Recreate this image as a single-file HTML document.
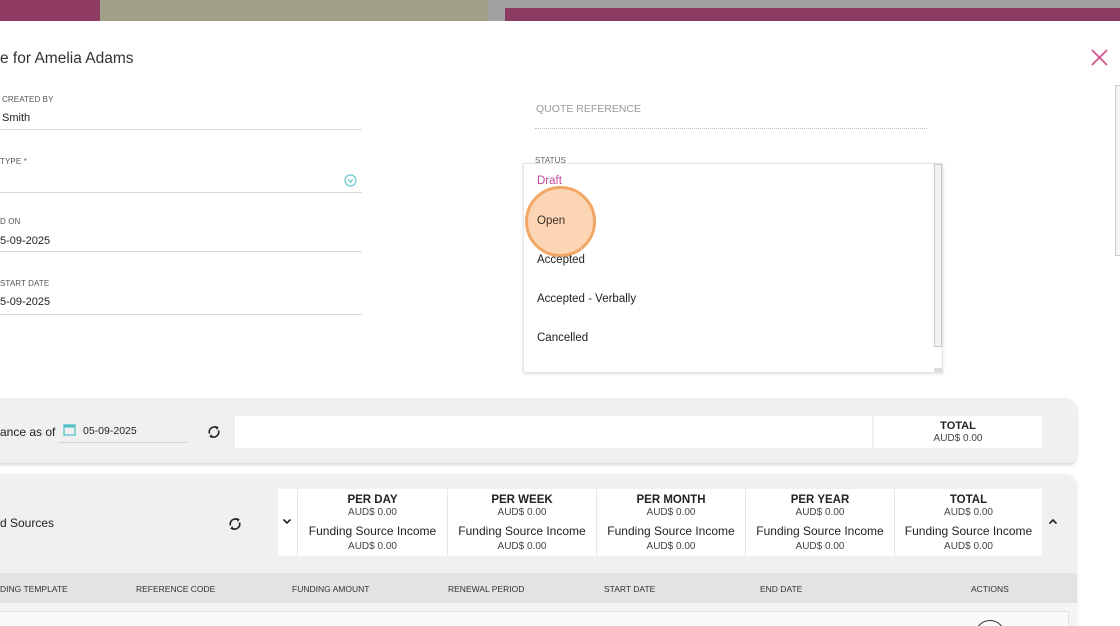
<!DOCTYPE html>
<html><head><meta charset="utf-8">
<style>
*{margin:0;padding:0;box-sizing:border-box}
html,body{width:1120px;height:626px;overflow:hidden}
body{background:#fff;font-family:"Liberation Sans",sans-serif;color:#333;position:relative}
.a{position:absolute;white-space:nowrap}
.lbl{font-size:8px;color:#555;letter-spacing:0.1px}
.val{font-size:11px;color:#222}
.ln{position:absolute;height:1px;background:#d8d8d8}
.opt{position:absolute;left:537px;font-size:11.5px;color:#222}
.col{position:absolute;top:489px;height:67px;background:#fff;text-align:center}
.col .h{font-size:11.5px;font-weight:bold;color:#222;margin-top:5px;line-height:13px}
.col .s{font-size:10px;color:#444;line-height:12px}
.col .f{font-size:12px;color:#222;margin-top:5px;line-height:14px}
.col .s2{font-size:10px;color:#444;margin-top:3px;line-height:12px}
.th{position:absolute;top:584px;font-size:8.5px;color:#333}
</style></head><body>
<!-- background strip -->
<div class="a" style="left:0;top:0;width:100px;height:21px;background:#8e3a62"></div>
<div class="a" style="left:100px;top:0;width:388px;height:21px;background:#a1a086"></div>
<div class="a" style="left:488px;top:0;width:632px;height:21px;background:#a1a1a1"></div>
<div class="a" style="left:505px;top:8px;width:615px;height:13px;background:#8b3a62"></div>

<!-- modal -->
<div class="a" style="left:0;top:21px;width:1120px;height:605px;background:#fff"></div>
<div class="a" style="left:0;top:50px;font-size:15.5px;color:#333">e for Amelia Adams</div>
<svg class="a" style="left:1090px;top:48px" width="19" height="19"><path d="M2 2L17 17M17 2L2 17" stroke="#d4548f" stroke-width="1.8" fill="none"/></svg>
<div class="a" style="left:1115px;top:85px;width:5px;height:171px;border:1px solid #ccc;border-right:none;background:#f4f4f4"></div>

<div class="a lbl" style="left:2px;top:95px">CREATED BY</div>
<div class="a val" style="left:2px;top:112px">Smith</div>
<div class="ln" style="left:0;top:129px;width:362px"></div>

<div class="a lbl" style="left:0;top:157px">TYPE *</div>
<svg class="a" style="left:344px;top:174px" width="13" height="13"><circle cx="6.5" cy="6.5" r="5.5" stroke="#4ec3c6" stroke-width="1" fill="none"/><path d="M4.3 5l2.2 3.3 2.2-3.3" stroke="#4ec3c6" stroke-width="1" fill="none"/></svg>
<div class="ln" style="left:0;top:192px;width:362px"></div>

<div class="a lbl" style="left:0;top:217px">D ON</div>
<div class="a val" style="left:0;top:235px">5-09-2025</div>
<div class="ln" style="left:0;top:251px;width:362px"></div>

<div class="a lbl" style="left:0;top:279px">START DATE</div>
<div class="a val" style="left:0;top:296px">5-09-2025</div>
<div class="ln" style="left:0;top:314px;width:362px"></div>

<div class="a" style="left:536px;top:103px;font-size:10.5px;color:#999">QUOTE REFERENCE</div>
<div class="a" style="left:535px;top:128px;width:392px;height:0;border-top:1px dotted #bbb"></div>
<div class="a lbl" style="left:535px;top:156px;color:#666">STATUS</div>

<!-- dropdown -->
<div class="a" style="left:523px;top:163px;width:420px;height:210px;background:#fff;border:1px solid #e4e4e4;box-shadow:0 1px 3px rgba(0,0,0,0.12)"></div>
<div class="a" style="left:934px;top:164px;width:8px;height:183px;background:#f2f2f2;border:1px solid #c8c8c8"></div>
<div class="a" style="left:934px;top:368px;width:8px;height:4px;background:#ddd"></div>
<div class="opt" style="top:175px;color:#c24a9c">Draft</div>
<div class="a" style="left:525px;top:186px;width:71px;height:71px;border-radius:50%;background:#fcd5b4;border:3px solid #f1a766"></div>
<div class="opt" style="top:215px;color:#3a3025">Open</div>
<div class="opt" style="top:254px">Accepted</div>
<div class="opt" style="top:293px">Accepted - Verbally</div>
<div class="opt" style="top:332px">Cancelled</div>

<!-- card 1 -->
<div class="a" style="left:-10px;top:398px;width:1087px;height:65px;background:#f0f0f0;border-top-right-radius:12px;border-bottom-right-radius:8px;box-shadow:0 2px 3px rgba(0,0,0,0.15)"></div>
<div class="a" style="left:0;top:425px;font-size:12px;color:#222">ance as of</div>
<svg class="a" style="left:63px;top:423px" width="13" height="13"><rect x="1" y="2" width="11" height="10" fill="none" stroke="#4ec3c6" stroke-width="1.3"/><rect x="1" y="2" width="11" height="2.5" fill="#4ec3c6"/></svg>
<div class="a" style="left:83px;top:425px;font-size:10.5px;color:#222">05-09-2025</div>
<div class="ln" style="left:59px;top:442px;width:128px;background:#d2d2d2"></div>
<svg class="a" style="left:206px;top:424px" width="16" height="16" viewBox="0 0 16 16"><path d="M3.5 9.5A5 5 0 0 1 11 3.8" stroke="#222" stroke-width="1.6" fill="none"/><path d="M12.5 6.5A5 5 0 0 1 5 12.2" stroke="#222" stroke-width="1.6" fill="none"/><path d="M9.5 1.8l3.2 1.6-2 2.6z" fill="#222"/><path d="M6.5 14.2l-3.2-1.6 2-2.6z" fill="#222"/></svg>
<div class="a" style="left:235px;top:416px;width:637px;height:32px;background:#fff"></div>
<div class="a" style="left:874px;top:416px;width:168px;height:32px;background:#fff;text-align:center">
<div style="font-size:11px;font-weight:bold;color:#222;margin-top:4px;line-height:13px">TOTAL</div>
<div style="font-size:10px;color:#444;line-height:12px">AUD$ 0.00</div></div>

<!-- card 2 -->
<div class="a" style="left:-10px;top:474px;width:1087px;height:160px;background:#f0f0f0;border-top-right-radius:12px;box-shadow:0 1px 3px rgba(0,0,0,0.1)"></div>
<div class="a" style="left:0;top:516px;font-size:12px;color:#222">d Sources</div>
<svg class="a" style="left:227px;top:516px" width="16" height="16" viewBox="0 0 16 16"><path d="M3.5 9.5A5 5 0 0 1 11 3.8" stroke="#222" stroke-width="1.6" fill="none"/><path d="M12.5 6.5A5 5 0 0 1 5 12.2" stroke="#222" stroke-width="1.6" fill="none"/><path d="M9.5 1.8l3.2 1.6-2 2.6z" fill="#222"/><path d="M6.5 14.2l-3.2-1.6 2-2.6z" fill="#222"/></svg>
<div class="a" style="left:278px;top:489px;width:764px;height:67px;background:#e6e6e6"></div>
<div class="col" style="left:278px;width:19px"></div>
<svg class="a" style="left:282px;top:518px" width="10" height="7"><path d="M1.5 1.5l3.5 3.5 3.5-3.5" stroke="#222" stroke-width="1.6" fill="none"/></svg>
<div class="col" style="left:298px;width:149px"><div class="h">PER DAY</div><div class="s">AUD$ 0.00</div><div class="f">Funding Source Income</div><div class="s2">AUD$ 0.00</div></div>
<div class="col" style="left:448px;width:148px"><div class="h">PER WEEK</div><div class="s">AUD$ 0.00</div><div class="f">Funding Source Income</div><div class="s2">AUD$ 0.00</div></div>
<div class="col" style="left:597px;width:148px"><div class="h">PER MONTH</div><div class="s">AUD$ 0.00</div><div class="f">Funding Source Income</div><div class="s2">AUD$ 0.00</div></div>
<div class="col" style="left:746px;width:148px"><div class="h">PER YEAR</div><div class="s">AUD$ 0.00</div><div class="f">Funding Source Income</div><div class="s2">AUD$ 0.00</div></div>
<div class="col" style="left:895px;width:147px"><div class="h">TOTAL</div><div class="s">AUD$ 0.00</div><div class="f">Funding Source Income</div><div class="s2">AUD$ 0.00</div></div>
<svg class="a" style="left:1048px;top:518px" width="10" height="7"><path d="M1.5 5.5l3.5-3.5 3.5 3.5" stroke="#222" stroke-width="1.6" fill="none"/></svg>

<!-- table header -->
<div class="a" style="left:0;top:573px;width:1077px;height:30px;background:#e3e3e3"></div>
<div class="th" style="left:0">DING TEMPLATE</div>
<div class="th" style="left:136px">REFERENCE CODE</div>
<div class="th" style="left:292px">FUNDING AMOUNT</div>
<div class="th" style="left:448px">RENEWAL PERIOD</div>
<div class="th" style="left:604px">START DATE</div>
<div class="th" style="left:760px">END DATE</div>
<div class="th" style="left:971px">ACTIONS</div>
<div class="a" style="left:0;top:603px;width:1077px;height:23px;background:#f4f4f4"></div>
<div class="a" style="left:-2px;top:611px;width:1071px;height:20px;background:#fafafa;border:1px solid #e2e2e2"></div>
<div class="a" style="left:975px;top:620px;width:30px;height:30px;border-radius:50%;border:1.5px solid #333"></div>
</body></html>
